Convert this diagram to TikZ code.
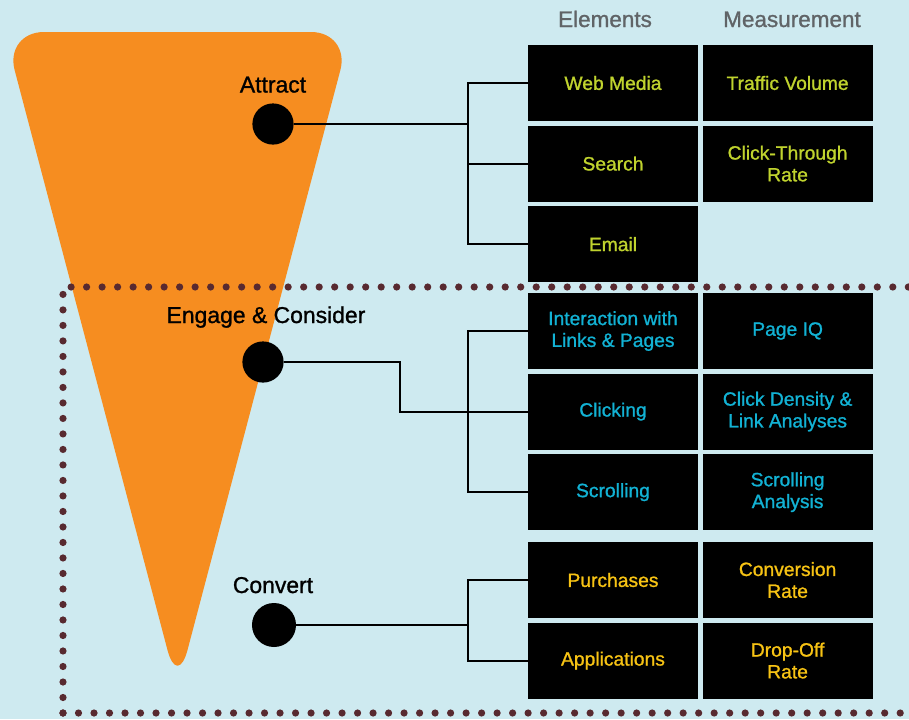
\documentclass[tikz,border=0pt]{standalone}
\usepackage{fontspec}
\setmainfont{Liberation Sans}
\newfontfamily\medfont[FakeBold=1.1]{Liberation Sans}
\usetikzlibrary{positioning}
\definecolor{skyback}{RGB}{206,234,240}
\definecolor{funnelorange}{RGB}{246,141,32}
\definecolor{attractgreen}{RGB}{192,211,46}
\definecolor{engagecyan}{RGB}{18,178,212}
\definecolor{convertgold}{RGB}{247,195,20}
\definecolor{dotmaroon}{RGB}{88,42,48}
\definecolor{headgray}{RGB}{96,100,103}

\begin{document}
\begin{tikzpicture}[x=0.025cm,y=-0.025cm,
  elbox/.style={fill=black,minimum width=4.25cm,minimum height=1.9cm,
    inner sep=0pt,align=center,font=\medfont\fontsize{13.7}{15.5}\selectfont},
  attractbox/.style={elbox,text=attractgreen},
  engagebox/.style={elbox,text=engagecyan},
  convertbox/.style={elbox,text=convertgold},
  stagedot/.style={circle,fill=black,inner sep=0pt,minimum size=1.03cm},
  stagename/.style={anchor=base,font=\medfont\fontsize{16.3}{19}\selectfont},
  colhead/.style={anchor=base,text=headgray,font=\medfont\fontsize{16}{19}\selectfont},
  link/.style={line width=1.4pt},
  dotline/.style={draw=dotmaroon,line width=0.18cm,line cap=round,
    dash pattern=on 0pt off 0.3875cm},
  node distance=0.1cm]
  \useasboundingbox (0,0) rectangle (909,719);
  \fill[skyback] (0,0) rectangle (909,719);
  % funnel
  \fill[funnelorange,rounded corners=28] (177.5,32) -- (350.4,32)
    -- (177.5,688) -- (4.6,32) -- cycle;
  % dotted frame round the lower stages
  \draw[dotline] (63,713) -- (63,287) -- (912,287);
  \draw[dotline] (63,713) -- (912,713);
  % column heads
  \node[colhead] (elhead) at (605,27) {Elements};
  \node[colhead] (mshead) at (792,27) {Measurement};
  % stages
  \node[stagedot] (attract) at (273,124) {};
  \node[stagename] (attractlbl) at (273,92.5) {Attract};
  \node[stagedot] (engage) at (263,362) {};
  \node[stagename] (engagelbl) at (266,323) {Engage \& Consider};
  \node[stagedot,minimum size=1.1cm] (convert) at (274,625) {};
  \node[stagename] (convertlbl) at (273,593) {Convert};
  % attract
  \node[attractbox] (web) at (613,83) {Web Media};
  \node[attractbox,right=of web] (traffic) {Traffic Volume};
  \node[attractbox,below=of web] (search) {Search};
  \node[attractbox,right=of search] (ctr) {Click-Through\\Rate};
  \node[attractbox,below=of search] (email) {Email};
  % engage
  \node[engagebox] (inter) at (613,331) {Interaction with\\Links \& Pages};
  \node[engagebox,right=of inter] (pageiq) {Page IQ};
  \node[engagebox,below=of inter] (click) {Clicking};
  \node[engagebox,right=of click] (density) {Click Density \&\\Link Analyses};
  \node[engagebox,below=of click] (scroll) {Scrolling};
  \node[engagebox,right=of scroll] (scrollan) {Scrolling\\Analysis};
  % convert
  \node[convertbox] (purch) at (613,580) {Purchases};
  \node[convertbox,right=of purch] (convrate) {Conversion\\Rate};
  \node[convertbox,below=of purch] (apps) {Applications};
  \node[convertbox,right=of apps] (dropoff) {Drop-Off\\Rate};
  % connectors
  \coordinate (abar) at (468,124);
  \draw[link] (attract) -- (abar);
  \draw[link] (web.west) -| (abar) |- (email.west);
  \draw[link] (abar |- search.west) -- (search.west);
  \coordinate (ebend) at (400,362);
  \coordinate (ebar) at (468,411);
  \draw[link] (engage) -- (ebend) |- (click.west);
  \draw[link] (inter.west) -| (ebar) |- (scroll.west);
  \coordinate (cbar) at (468,625);
  \draw[link] (convert) -- (cbar);
  \draw[link] (purch.west) -| (cbar) |- (apps.west);
\end{tikzpicture}
\end{document}
